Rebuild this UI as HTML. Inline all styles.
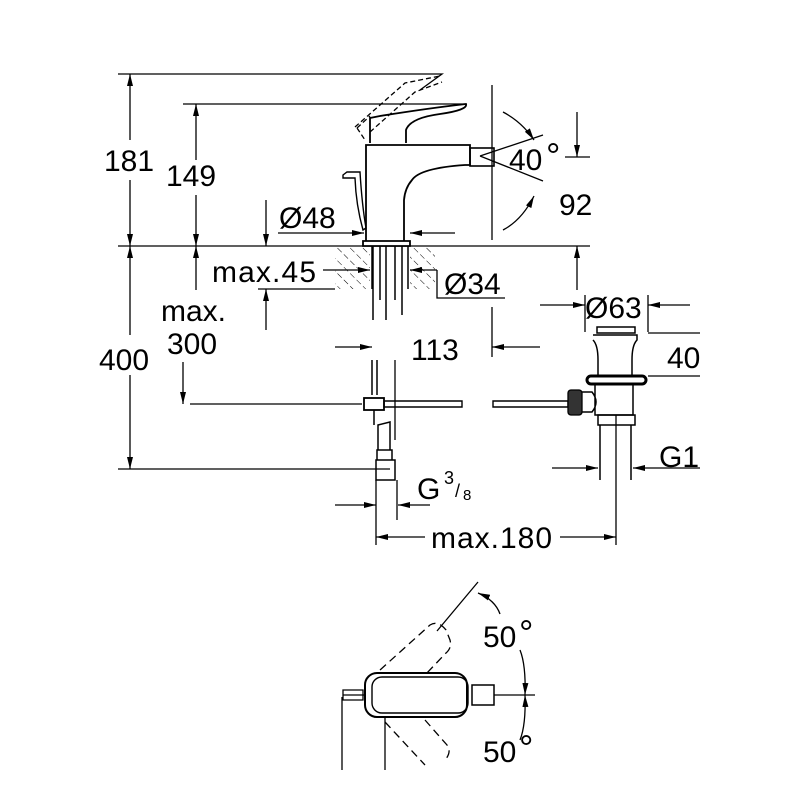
<!DOCTYPE html>
<html><head><style>html,body{margin:0;padding:0;background:#fff}svg{display:block}</style></head><body>
<svg width="800" height="800" viewBox="0 0 800 800" xmlns="http://www.w3.org/2000/svg" font-family="Liberation Sans, sans-serif" fill="none" stroke="#000" stroke-width="1.3">
<defs>
<marker id="a" viewBox="0 0 12 6" refX="12" refY="3" markerWidth="12" markerHeight="6" orient="auto-start-reverse" markerUnits="userSpaceOnUse"><path d="M0,0 L12,3 L0,6 z" fill="#000" stroke="none"/></marker>
<pattern id="h" width="9" height="9" patternUnits="userSpaceOnUse" patternTransform="rotate(-45)"><line x1="0" y1="0" x2="0" y2="9" stroke="#000" stroke-width="1" stroke-dasharray="6 3"/></pattern>
</defs>
<g font-size="30" fill="#000" stroke="none">
<text x="104" y="171">181</text>
<text x="166" y="186">149</text>
<text x="99" y="370">400</text>
<text x="161" y="321">max.</text>
<text x="167" y="354">300</text>
<text x="279" y="228">Ø48</text>
<text x="212" y="282" textLength="104">max.45</text>
<text x="444" y="294">Ø34</text>
<text x="509" y="170">40</text><text x="546" y="168" font-size="36">°</text>
<text x="559" y="215">92</text>
<text x="411" y="360">113</text>
<text x="585" y="318">Ø63</text>
<text x="667" y="368">40</text>
<text x="659" y="467">G1</text>
<text x="417" y="499">G</text><text x="444" y="484" font-size="18">3</text><text x="455" y="497" font-size="18">/</text><text x="463" y="500" font-size="15">8</text>
<text x="431" y="548" textLength="121">max.180</text>
<text x="483" y="647">50</text><text x="519" y="645" font-size="36">°</text>
<text x="483" y="762">50</text><text x="519" y="760" font-size="36">°</text>
</g>
<path d="M118 74H442L420 90M183 104H466M118 246H590M118 469H390M190 404H362M258 289H335M565 157H590"/>
<line x1="130" y1="140" x2="130" y2="74" marker-end="url(#a)"/><line x1="130" y1="180" x2="130" y2="246" marker-end="url(#a)"/>
<line x1="196" y1="160" x2="196" y2="104" marker-end="url(#a)"/><line x1="196" y1="195" x2="196" y2="246" marker-end="url(#a)"/>
<line x1="130" y1="335" x2="130" y2="246" marker-end="url(#a)"/><line x1="130" y1="375" x2="130" y2="469" marker-end="url(#a)"/>
<line x1="196" y1="290" x2="196" y2="246" marker-end="url(#a)"/><line x1="183" y1="362" x2="183" y2="404" marker-end="url(#a)"/>
<line x1="266" y1="200" x2="266" y2="246" marker-end="url(#a)"/><line x1="266" y1="330" x2="266" y2="289" marker-end="url(#a)"/>
<line x1="577" y1="112" x2="577" y2="157" marker-end="url(#a)"/><line x1="577" y1="290" x2="577" y2="246" marker-end="url(#a)"/>
<line x1="278" y1="233" x2="364" y2="233" marker-end="url(#a)"/><line x1="455" y1="233" x2="410" y2="233" marker-end="url(#a)"/>
<line x1="323" y1="270" x2="370" y2="270" marker-end="url(#a)"/><path d="M437 270H410" marker-end="url(#a)"/><path d="M437 270V298H505"/>
<line x1="335" y1="347" x2="372" y2="347" marker-end="url(#a)"/><line x1="540" y1="347" x2="492" y2="347" marker-end="url(#a)"/><path d="M492 307V357M395 440V360"/>
<line x1="540" y1="305" x2="585" y2="305" marker-end="url(#a)"/><line x1="690" y1="305" x2="648" y2="305" marker-end="url(#a)"/><path d="M585 295V332M648 295V332M648 333H700M648 376H700"/>
<line x1="552" y1="468" x2="598" y2="468" marker-end="url(#a)"/><line x1="700" y1="468" x2="633" y2="468" marker-end="url(#a)"/>
<line x1="335" y1="505" x2="376" y2="505" marker-end="url(#a)"/><line x1="430" y1="505" x2="398" y2="505" marker-end="url(#a)"/>
<line x1="425" y1="537" x2="376" y2="537" marker-end="url(#a)"/><line x1="560" y1="537" x2="616" y2="537" marker-end="url(#a)"/><path d="M376 480V545M397 480V520M616 415V545"/>
<rect x="335" y="246" width="35" height="43" fill="url(#h)" stroke="none"/><rect x="410" y="246" width="25" height="43" fill="url(#h)" stroke="none"/>
<path d="M363 241H410V246H363zM366 241V145H470V165H465Q420 168 412 180Q405 188 404 200V241" fill="#fff" stroke-width="1.8"/>
<rect x="470" y="148" width="24" height="18" stroke-width="1.6"/>
<path d="M370 143V118L380 116Q430 108 466 104Q468 110 440 114Q410 118 406 130V143" stroke-width="1.8"/>
<path d="M357 128L370 116M357 128L365 140M355 127L405 83L440 76M370 132L415 92L442 82" stroke-dasharray="5 3"/>
<path d="M343 175L347 172L360 172Q362 205 366 228L363 230Q356 205 355 178L343 178z" stroke-width="1.4"/>
<path d="M492 85V240M480 156L543 135M480 156L543 181"/>
<path d="M503 112Q522 122 534 140" marker-end="url(#a)"/><path d="M503 230Q522 220 534 196" marker-end="url(#a)"/>
<path d="M373 246V320M380 246V300M386 246V320M402 246V315M395 246V300" stroke-width="1.5"/>
<path d="M372 360V395M377 360V395M374 410V425M372 246V289M408 246V289" stroke-width="1.5"/>
<rect x="364" y="398" width="20" height="12" fill="#fff" stroke-width="1.8"/>
<path d="M384 401H462V407H384zM493 401H568V407H493z" stroke-width="1.4"/>
<path d="M378 425L390 422V450H378zM377 450H392V460H377zM376 460H395V480H376z" stroke-width="1.5"/>
<path d="M597 327H635V333H597z" stroke-width="1.5"/>
<path d="M593 335H637V340Q632 345 632 360V376M598 376V360Q598 345 593 340" stroke-width="1.5"/>
<rect x="587" y="376" width="59" height="8" rx="4" stroke-width="3"/>
<path d="M595 385V415H633V385M580 392H592Q600 402 592 412H580" stroke-width="1.5"/>
<rect x="568" y="390" width="14" height="25" rx="3" fill="#333"/>
<path d="M598 415H635V425H598zM600 425V480M631 425V480" stroke-width="1.5"/>
<rect x="365" y="673" width="102" height="44" rx="12" stroke-width="2"/>
<rect x="372" y="677" width="96" height="36" rx="10" stroke-width="1.4"/>
<rect x="472" y="685" width="22" height="20" stroke-width="1.5"/>
<path d="M494 695H535M343 695H365M343 690H363V700H343z"/>
<path d="M342 697V770M385 717V770"/>
<path d="M380 670L430 625Q438 620 446 630L450 640Q452 648 446 653L425 675" stroke-dasharray="8 5"/>
<path d="M385 722L425 765M425 720L447 745Q452 752 445 760" stroke-dasharray="8 5"/>
<path d="M437 631L478 582"/>
<path d="M500 614Q495 600 478 593" marker-end="url(#a)"/>
<path d="M520 650Q526 665 525 695" marker-end="url(#a)"/><path d="M520 740Q526 725 525 695" marker-end="url(#a)"/>
</svg>
</body></html>
